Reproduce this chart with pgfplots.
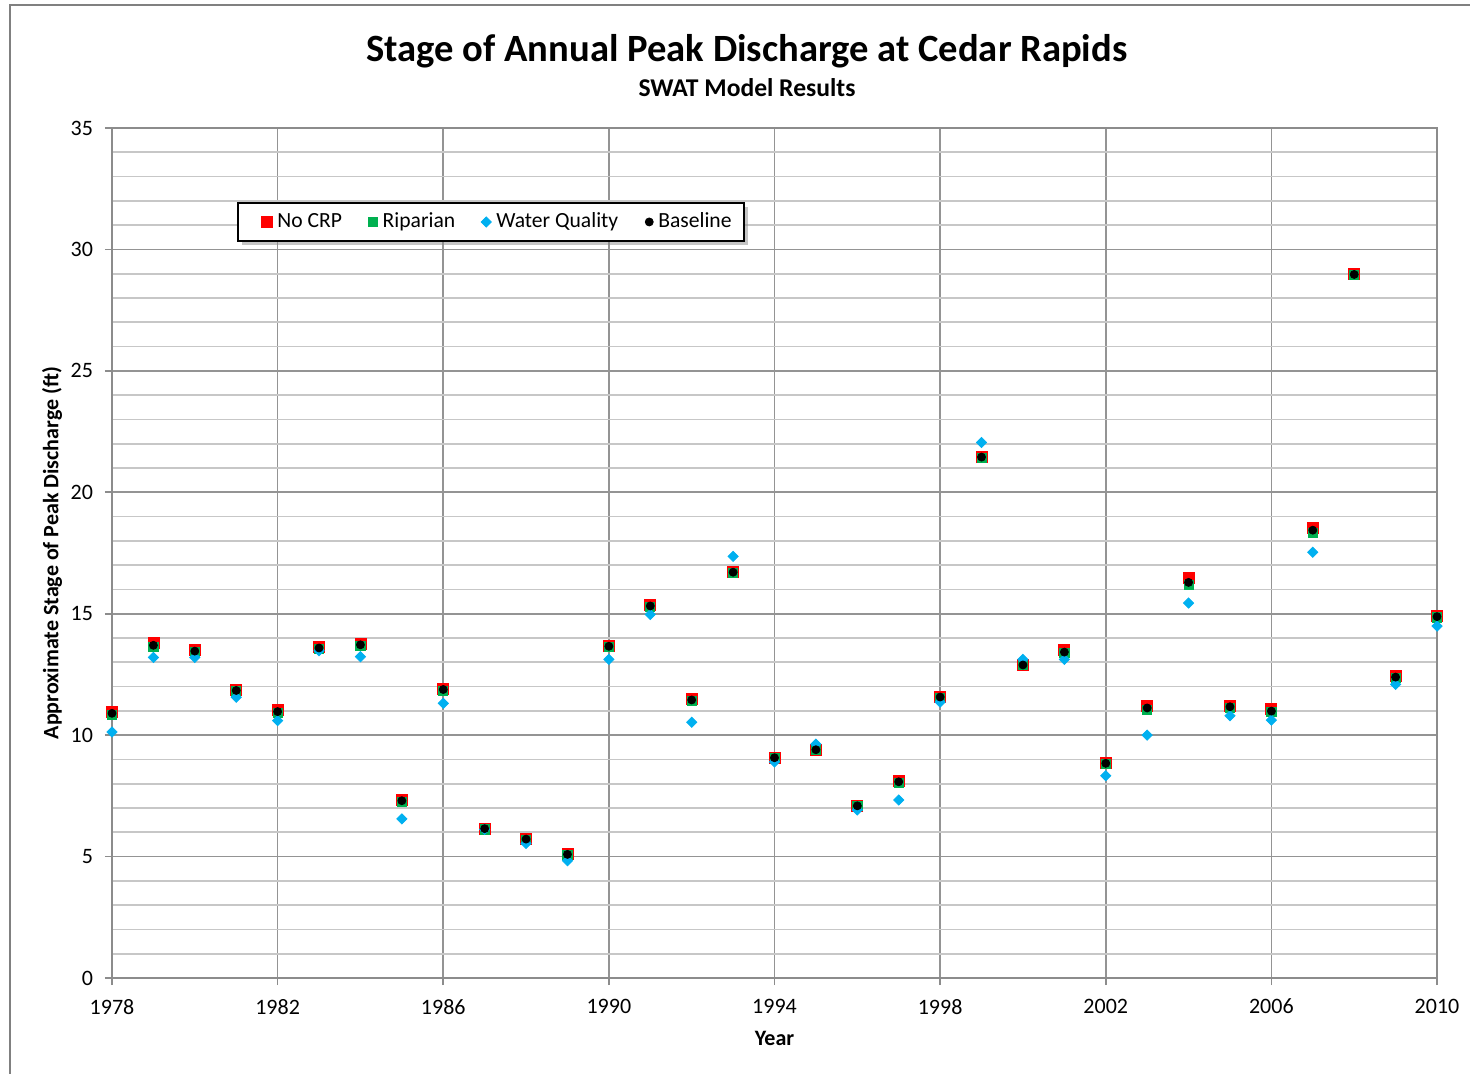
\documentclass[border=0pt]{standalone}
\usepackage{pgfplots}
\pgfplotsset{compat=1.18}
\usepackage{pgfplotstable}
\usepackage{fontspec}
\setmainfont{Carlito}
\usetikzlibrary{shadows}
\definecolor{cred}{HTML}{FF0000}
\definecolor{cgreen}{HTML}{00B050}
\definecolor{cblue}{HTML}{00B0F0}
\pgfplotstableread{
year red green black
1978 10.95 10.85 10.90
1979 13.78 13.65 13.70
1980 13.50 13.42 13.46
1981 11.88 11.80 11.84
1982 11.02 10.93 10.97
1983 13.63 13.55 13.59
1984 13.75 13.68 13.72
1985 7.33 7.25 7.30
1986 11.92 11.83 11.88
1987 6.16 6.12 6.15
1988 5.74 5.70 5.72
1989 5.10 5.06 5.09
1990 13.68 13.62 13.66
1991 15.36 15.28 15.32
1992 11.48 11.40 11.45
1993 16.72 16.68 16.71
1994 9.07 9.05 9.07
1995 9.40 9.38 9.40
1996 7.10 7.08 7.09
1997 8.12 8.05 8.08
1998 11.58 11.55 11.57
1999 21.45 21.42 21.45
2000 12.90 12.88 12.89
2001 13.50 13.40 13.42
2002 8.84 8.80 8.84
2003 11.20 11.03 11.12
2004 16.47 16.18 16.29
2005 11.20 11.12 11.17
2006 11.09 10.95 10.99
2007 18.53 18.33 18.44
2008 28.98 28.96 28.97
2009 12.42 12.37 12.39
2010 14.90 14.85 14.88
}\datatable
\pgfplotstableread{
year blue
1978 10.13
1979 13.20
1980 13.20
1981 11.56
1982 10.60
1983 13.48
1984 13.23
1985 6.55
1986 11.31
1987 6.12
1988 5.54
1989 4.83
1990 13.12
1991 14.97
1992 10.53
1993 17.36
1994 8.90
1995 9.63
1996 6.92
1997 7.33
1998 11.36
1999 22.05
2000 13.12
2001 13.12
2002 8.33
2003 10.00
2004 15.44
2005 10.80
2006 10.62
2007 17.53
2009 12.09
2010 14.49
}\bluetable
\begin{document}
\begin{tikzpicture}
\useasboundingbox (0pt,0pt) rectangle (735pt,536.5pt);
\draw[black!50, line width=1pt] (5pt,-10pt) -- (5pt,534pt) -- (745pt,534pt);
\node[anchor=base, font=\bfseries\fontsize{19.3}{23}\selectfont] at (373.5pt,505.5pt) {Stage of Annual Peak Discharge at Cedar Rapids};
\node[anchor=base, font=\bfseries\fontsize{12.8}{15}\selectfont] at (373.5pt,488pt) {SWAT Model Results};
\begin{axis}[
  at={(56pt,47.5pt)}, anchor=south west,
  width=662.5pt, height=425pt, scale only axis,
  xmin=1978, xmax=2010, ymin=0, ymax=35,
  xtick={1978,1982,...,2010},
  xticklabels={1978,1982,1986,1990,1994,1998,2002,2006,2010},
  ytick={0,5,...,35},
  yticklabels={0,5,10,15,20,25,30,35},
  minor x tick num=3, minor y tick num=4,
  grid=both,
  major grid style={color=black!42, line width=0.8pt},
  minor grid style={color=black!22, line width=0.8pt},
  axis line style={color=black!45, line width=0.8pt},
  tick pos=left,
  tick align=outside, major tick length=3.5pt, minor tick length=0pt,
  tick style={color=black!45, line width=0.8pt},
  ticklabel style={font=\fontsize{11}{13}\selectfont},
  yticklabel style={xshift=-2.5pt},
  xticklabel style={yshift=-3.5pt},
  xlabel={Year}, ylabel={Approximate Stage of Peak Discharge (ft)},
  label style={font=\bfseries\fontsize{11}{13}\selectfont},
  xlabel style={at={(axis description cs:0.5,-0.0706)}, anchor=center},
  ylabel style={at={(axis description cs:-0.0453,0.5)}, anchor=center},
  legend columns=4,
  legend style={at={(axis description cs:0.0943,0.913)}, anchor=north west,
    draw=black, line width=1pt, fill=white,
    drop shadow={shadow xshift=2pt, shadow yshift=-2pt, fill=black!45},
    font=\fontsize{10.8}{13}\selectfont, inner xsep=4pt, inner ysep=3pt,
    /tikz/every odd column/.append style={column sep=0.5pt},
    /tikz/every even column/.append style={column sep=3pt}},
  legend image code/.code={\path (-10pt,0pt); \draw[#1,line width=0.4pt] plot coordinates {(0pt,0pt)};},
  clip=false,
]
\addplot[only marks, mark=square*, mark size=2.75pt, color=cred] table[x=year,y=red]{\datatable};
\addlegendentry{No CRP}
\addplot[only marks, mark=square*, mark size=2.3pt, color=cgreen] table[x=year,y=green]{\datatable};
\addlegendentry{Riparian}
\addplot[only marks, mark=square*, mark size=1.8pt, mark options={rotate=45}, color=cblue] table[x=year,y=blue]{\bluetable};
\addlegendentry{Water Quality}
\addplot[only marks, mark=*, mark size=2pt, color=black] table[x=year,y=black]{\datatable};
\addlegendentry{Baseline}
\end{axis}
\end{tikzpicture}
\end{document}
